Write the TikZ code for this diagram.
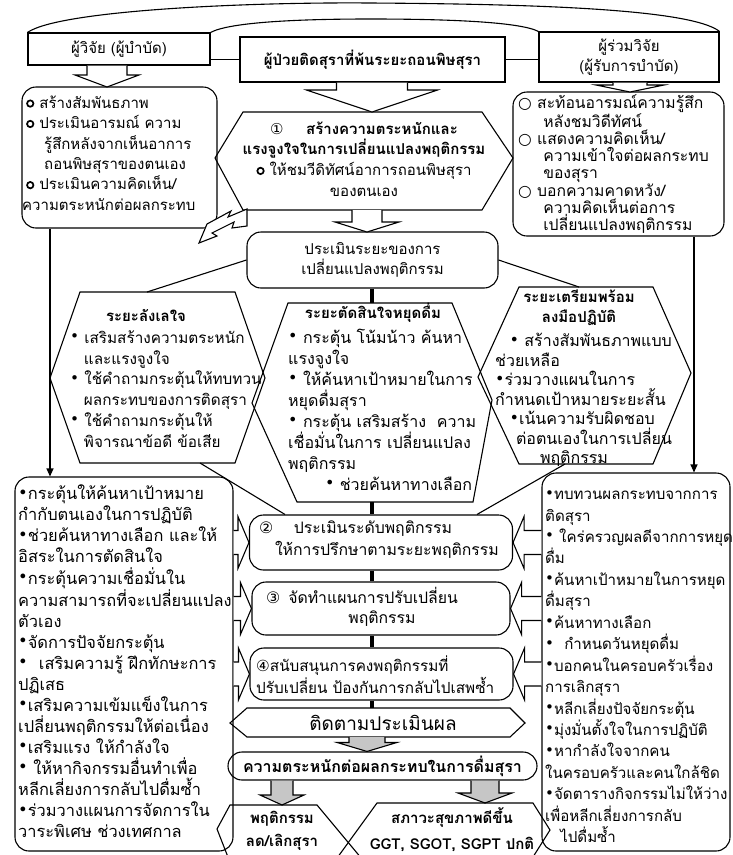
\documentclass[tikz,border=0pt]{standalone}
\usepackage{fontspec}
\setmainfont{Loma}[Script=Thai]
\newfontfamily\symfont{DejaVu Sans}
\usetikzlibrary{arrows.meta,calc}

\newcommand{\ringB}{\tikz[baseline=-0.6ex,x=1pt,y=1pt]\draw[line width=1.7pt] (0,0) circle (3.2pt);}
\newcommand{\ringT}{{\symfont ○}}
\newcommand{\dotB}{\raisebox{.2ex}{\symfont •}}

% open block arrows: [style]{tail}{tip}{stem half}{head half}{head length}
\newcommand{\blkdown}[6][blkw]{\draw[#1] let \p1=(#2), \p2=(#3) in
  (\x2-#4pt,\y1) -- (\x2-#4pt,\y2+#6pt) -- (\x2-#5pt,\y2+#6pt) -- (\x2,\y2)
  -- (\x2+#5pt,\y2+#6pt) -- (\x2+#4pt,\y2+#6pt) -- (\x2+#4pt,\y1);}
\newcommand{\blkright}[6][blkw]{\draw[#1] let \p1=(#2), \p2=(#3) in
  (\x1,\y2+#4pt) -- (\x2-#6pt,\y2+#4pt) -- (\x2-#6pt,\y2+#5pt) -- (\x2,\y2)
  -- (\x2-#6pt,\y2-#5pt) -- (\x2-#6pt,\y2-#4pt) -- (\x1,\y2-#4pt);}
\newcommand{\blkleft}[6][blkw]{\draw[#1] let \p1=(#2), \p2=(#3) in
  (\x1,\y2+#4pt) -- (\x2+#6pt,\y2+#4pt) -- (\x2+#6pt,\y2+#5pt) -- (\x2,\y2)
  -- (\x2+#6pt,\y2-#5pt) -- (\x2+#6pt,\y2-#4pt) -- (\x1,\y2-#4pt);}

\begin{document}
\begin{tikzpicture}[x=1pt,y=-1pt,
  fs/.style 2 args={font=\fontsize{#1}{#2}\selectfont},
  fsb/.style 2 args={font=\fontsize{#1}{#2}\selectfont\bfseries},
  txt/.style={inner sep=0,fs={15}{20.5}},
  box/.style={draw,line width=1.1pt,inner sep=0,fs={15}{20.5}},
  rbox/.style={box,rounded corners=14pt},
  hexl/.style={draw,line width=1.1pt},
  ln/.style={line width=1.1pt},
  thk/.style={line width=3.5pt},
  blkw/.style={draw,fill=white,line width=1.1pt,line join=miter},
  blkg/.style={draw,fill=gray!45,line width=1.1pt}]
\useasboundingbox (0,0) rectangle (732,855);
\clip (0,0) rectangle (732,855);

% top row
\node[box,minimum width=182,minimum height=32] (res) at (119,49) {ผู้วิจัย (ผู้บำบัด)};
\node[box,minimum width=265,minimum height=45,fsb={15}{20}] (pat) at (372.5,59.5) {ผู้ป่วยติดสุราที่พ้นระยะถอนพิษสุรา};
\node[box,minimum width=180,minimum height=50,align=center] (cor) at (629,57) {ผู้ร่วมวิจัย\\(ผู้รับการบำบัด)};
\draw[ln] (res.east |- pat.west) -- (pat.west);
\draw[ln] (pat.east) -- (cor.west |- pat.east);
\draw[ln] (res.north west) .. controls (60,10) and (250,2) .. (370,3) .. controls (520,4) and (690,8) .. (cor.north east);
\draw[ln] (res.north east) .. controls (230,22) and (300,19) .. (370,19) .. controls (450,19) and (520,22) .. (cor.north west);

% researcher / co-researcher panels
\node[rbox,minimum width=195,minimum height=141] (resP) at (119.5,157.5) {};
\node[txt,anchor=west,align=left,fs={15}{20.4}] (resT) at (26,153) {\ringB\ สร้างสัมพันธภาพ\\
\ringB\ ประเมินอารมณ์ ความ\\
\hspace*{1.2em}รู้สึกหลังจากเห็นอาการ\\
\hspace*{1.2em}ถอนพิษสุราของตนเอง\\
\ringB\ ประเมินความคิดเห็น/\\
\hspace*{-4pt}ความตระหนักต่อผลกระทบ};
\node[rbox,minimum width=211,minimum height=144] (corP) at (618.5,164) {};
\node[txt,anchor=west,align=left,fs={15.7}{17.2}] (corT) at (518,164) {\ringT\ สะท้อนอารมณ์ความรู้สึก\\
\hspace*{1.6em}หลังชมวิดีทัศน์\\
\ringT\ แสดงความคิดเห็น/\\
\hspace*{1.6em}ความเข้าใจต่อผลกระทบ\\
\hspace*{1.6em}ของสุรา\\
\ringT\ บอกความคาดหวัง/\\
\hspace*{1.6em}ความคิดเห็นต่อการ\\
\hspace*{1.6em}เปลี่ยนแปลงพฤติกรรม};

% step 1
\coordinate (h1n) at (372,112);
\coordinate (h1s) at (367,210);
\draw[hexl] (243,112) -- (482,112) -- (513,158) -- (482,210) -- (243,210) -- (215,158) -- cycle;
\node[txt,align=center,fs={15}{20.7}] (h1) at (364,159) {{\symfont ①}\hspace{1.5em}\textbf{สร้างความตระหนักและ}\\
\textbf{แรงจูงใจในการเปลี่ยนแปลงพฤติกรรม}\\
\ringB\ ให้ชมวีดิทัศน์อาการถอนพิษสุรา\\
ของตนเอง};
\draw[blkw] (247,209) -- (228,217) -- (231,211) -- (207,224) -- (199,243) -- (217,236) -- (212,233) -- (234,222) -- (232,228) -- (247,226) -- cycle;

% stage assessment
\node[rbox,minimum width=251,minimum height=56,align=center] (stg) at (372.5,260) {ประเมินระยะของการ\\เปลี่ยนแปลงพฤติกรรม};
\coordinate (a0) at (107,87);
\coordinate (a1) at (630,92);
\coordinate (a2) at (367,232);
\blkdown{res.south}{a0}{20}{32}{12}
\blkdown{cor.south}{a1}{17}{34}{7}
\blkdown{pat.south}{h1n}{35.5}{65.5}{22}
\blkdown{h1s}{a2}{15}{32}{10}

% stages
\coordinate (ax) at (372,0);
\coordinate (hLn) at (147,292);
\coordinate (hMn) at (372,303);
\coordinate (hRn) at (579,287);
\coordinate (hLs) at (200,463);
\coordinate (hMs) at (372,502);
\coordinate (hRs) at (565,464);
\draw[hexl] (80,292) -- (235,292) -- (265,378) -- (235,463) -- (80,463) -- (50,378) -- cycle;
\draw[hexl] (288,303) -- (452,303) -- (492,400) -- (473,502) -- (297,502) -- (252,403) -- cycle;
\draw[hexl] (519,287) -- (653,287) -- (691,373) -- (653,464) -- (519,464) -- (478,377) -- cycle;
\draw[ln] (stg.west) -- (hLn);
\draw[ln] (stg.east) -- (hRn);
\draw[thk] (stg.south -| ax) -- (hMn);

\node[txt,fsb={15}{20}] (hLt) at (146,315) {ระยะลังเลใจ};
\node[txt,anchor=west,align=left,fs={15.3}{20.8}] (hLb) at (70,389) {\dotB\ เสริมสร้างความตระหนัก\\
\hspace*{0.9em}และแรงจูงใจ\\
\dotB\ ใช้คำถามกระตุ้นให้ทบทวน\\
\hspace*{0.9em}ผลกระทบของการติดสุรา\\
\dotB\ ใช้คำถามกระตุ้นให้\\
\hspace*{0.9em}พิจารณาข้อดี ข้อเสีย};
\node[txt,fsb={15}{20}] (hMt) at (373,313) {ระยะตัดสินใจหยุดดื่ม};
\node[txt,anchor=west,align=left,fs={16}{21}] (hMb) at (288,409.5) {\dotB\ กระตุ้น โน้มน้าว ค้นหา\\
แรงจูงใจ\\
\dotB\ ให้ค้นหาเป้าหมายในการ\\
หยุดดื่มสุรา\\
\dotB\ กระตุ้น เสริมสร้าง\ \ ความ\\
เชื่อมั่นในการ เปลี่ยนแปลง\\
พฤติกรรม\\
\hspace*{2.3em}\dotB\ ช่วยค้นหาทางเลือก};
\node[txt,align=center,fsb={15}{20}] (hRt) at (579,308) {ระยะเตรียมพร้อม\\ลงมือปฏิบัติ};
\node[txt,anchor=west,align=left,fs={16}{19.5}] (hRb) at (495,400) {\hspace*{0.9em}\dotB\ สร้างสัมพันธภาพแบบ\\
ช่วยเหลือ\\
\dotB ร่วมวางแผนในการ\\
กำหนดเป้าหมายระยะสั้น\\
\hspace*{0.9em}\dotB เน้นความรับผิดชอบ\\
\hspace*{1.3em}ต่อตนเองในการเปลี่ยน\\
\hspace*{2.8em}พฤติกรรม};

% steps 2-4
\node[rbox,minimum width=263,minimum height=55] (s2) at (381,542.5) {};
\node[rbox,minimum width=258,minimum height=53] (s3) at (381,608.5) {};
\node[rbox,minimum width=263,minimum height=52] (s4) at (381.5,674) {};
\node[txt,anchor=west,align=left,fs={15.8}{22}] (s2t) at (259,540) {{\symfont ②}\hspace{1.3em}ประเมินระดับพฤติกรรม\\
\hspace*{1em}ให้การปรึกษาตามระยะพฤติกรรม};
\node[txt,anchor=west,align=left,fs={15.8}{20}] (s3t) at (266,607) {{\symfont ③}\hspace{0.5em}จัดทำแผนการปรับเปลี่ยน\\
\hspace*{5.2em}พฤติกรรม};
\node[txt,anchor=west,align=left,fs={15.3}{22}] (s4t) at (256,675) {{\symfont ④}สนับสนุนการคงพฤติกรรมที่\\
ปรับเปลี่ยน ป้องกันการกลับไปเสพซ้ำ};
\draw[ln] (hLs) -- (s2.north -| 285,0);
\draw[ln] (hRs) -- (s2.north -| 477,0);
\draw[thk] (hMs) -- (s2.north -| ax);
\draw[thk] (s2.south -| ax) -- (s3.north -| ax);
\draw[thk] (s3.south -| ax) -- (s4.north -| ax);

% lower panels
\node[rbox,minimum width=218,minimum height=374] (lowL) at (124,664) {};
\node[rbox,minimum width=188,minimum height=378] (lowR) at (636,662) {};
\node[txt,anchor=west,align=left,fs={16.4}{21.06}] (lowLt) at (18,661.5) {\dotB กระตุ้นให้ค้นหาเป้าหมาย\\
กำกับตนเองในการปฏิบัติ\\
\dotB ช่วยค้นหาทางเลือก และให้\\
อิสระในการตัดสินใจ\\
\dotB กระตุ้นความเชื่อมั่นใน\\
ความสามารถที่จะเปลี่ยนแปลง\\
ตัวเอง\\
\dotB จัดการปัจจัยกระตุ้น\\
\dotB\ \ เสริมความรู้ ฝึกทักษะการ\\
ปฏิเสธ\\
\dotB เสริมความเข้มแข็งในการ\\
เปลี่ยนพฤติกรรมให้ต่อเนื่อง\\
\dotB เสริมแรง ให้กำลังใจ\\
\dotB\ ให้หากิจกรรมอื่นทำเพื่อ\\
หลีกเลี่ยงการกลับไปดื่มซ้ำ\\
\dotB ร่วมวางแผนการจัดการใน\\
วาระพิเศษ ช่วงเทศกาล};
\node[txt,anchor=west,align=left,fs={15.1}{21.44}] (lowRt) at (545,666.5) {\dotB ทบทวนผลกระทบจากการ\\
ติดสุรา\\
\dotB\ ใคร่ครวญผลดีจากการหยุด\\
ดื่ม\\
\dotB ค้นหาเป้าหมายในการหยุด\\
ดื่มสุรา\\
\dotB ค้นหาทางเลือก\\
\dotB\ \ กำหนดวันหยุดดื่ม\\
\dotB บอกคนในครอบครัวเรื่อง\\
การเลิกสุรา\\
\dotB หลีกเลี่ยงปัจจัยกระตุ้น\\
\dotB มุ่งมั่นตั้งใจในการปฏิบัติ\\
\dotB หากำลังใจจากคน\\
ในครอบครัวและคนใกล้ชิด\\
\dotB จัดตารางกิจกรรมไม่ให้ว่าง\\
เพื่อหลีกเลี่ยงการกลับ\\
\hspace*{1em}ไปดื่มซ้ำ};
\draw[ln,-{Triangle[length=8pt,width=7pt]}] (resP.south -| 50,0) -- (lowL.north -| 50,0);
\draw[ln,-{Triangle[length=8pt,width=7pt]}] (corP.south -| 694,0) -- (lowR.north -| 694,0);
\blkright{lowL.east}{s2.west}{12}{26}{11}
\blkright{lowL.east}{s3.west}{12}{26}{11}
\blkright{lowL.east}{s4.west}{12}{26}{11}
\blkleft{lowR.west}{s2.east}{12}{26}{11}
\blkleft{lowR.west}{s3.east}{12}{26}{11}
\blkleft{lowR.west}{s4.east}{12}{26}{11}

% follow-up and outcomes
\coordinate (foln) at (372,708);
\coordinate (fols) at (367,737);
\coordinate (bLn) at (282,805);
\coordinate (bRn) at (485,803);
\draw[hexl] (247,708) -- (510,708) -- (525,723) -- (510,737) -- (247,737) -- (230,723) -- cycle;
\node[txt,fs={19}{20}] (fol) at (383,723) {ติดตามประเมินผล};
\draw[thk] (s4.south -| ax) -- (foln);
\node[box,rounded corners=14pt,minimum width=309,minimum height=28,fsb={16}{20}] (awr) at (382.5,766) {ความตระหนักต่อผลกระทบในการดื่มสุรา};
\blkdown[blkg]{fols}{awr.north -| 367,0}{18}{30}{9}
\blkdown[blkg]{awr.south}{bLn}{11}{22}{10}
\blkdown[blkg]{awr.south}{bRn}{14}{27}{10}
\draw[hexl] (235,875) -- (217,829) -- (230,805) -- (317,805) -- (367,865);
\draw[hexl] (332,865) -- (377,803) -- (533,803) -- (550,830) -- (533,857);
\node[txt,align=center,fsb={15}{23}] (bL) at (282,831) {พฤติกรรม\\ลด/เลิกสุรา};
\node[txt,align=center,fsb={15}{26}] (bR) at (452,830) {สภาวะสุขภาพดีขึ้น\\GGT, SGOT, SGPT ปกติ};
\end{tikzpicture}
\end{document}
